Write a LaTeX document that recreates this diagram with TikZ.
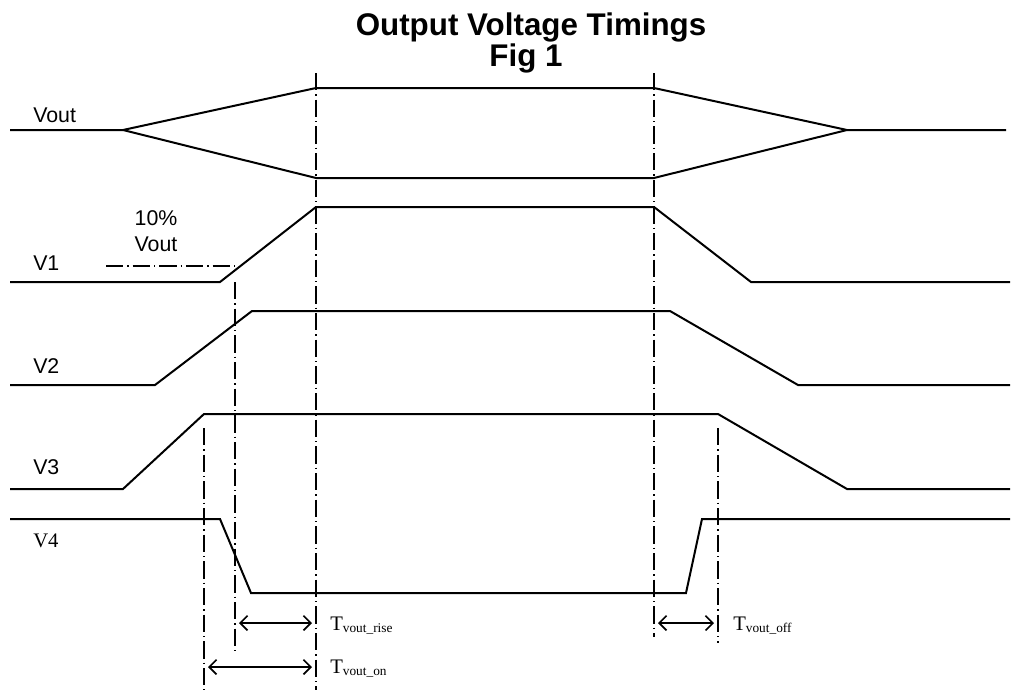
\documentclass[tikz,border=0pt]{standalone}
\usepackage{fontspec}
\setmainfont{Liberation Serif}
\setsansfont{Liberation Sans}
\usetikzlibrary{arrows.meta}

\begin{document}
\begin{tikzpicture}[
  x=0.75pt, y=-0.75pt,
  sig/.style={line width=1.5pt, line join=miter},
  guide/.style={line width=0.9pt, dash pattern=on 13pt off 3pt on 1pt off 3pt},
  span/.style={{Straight Barb[length=5.5pt,width=11pt]}-{Straight Barb[length=5.5pt,width=11pt]},
               line width=1.2pt, shorten <=3pt, shorten >=3pt},
  lbl/.style={font=\sffamily\fontsize{16}{19}\selectfont, anchor=base west, inner sep=0pt},
  tlbl/.style={font=\fontsize{15.5}{18}\selectfont, anchor=base west, inner sep=0pt},
]
\useasboundingbox (0,0) rectangle (1015,693);

% --- title ---
\node[font=\sffamily\bfseries\fontsize{23.5}{28}\selectfont, anchor=base] (title) at (531,35) {Output Voltage Timings};
\node[font=\sffamily\bfseries\fontsize{23.5}{28}\selectfont, anchor=base] (fig) at (526,66) {Fig 1};

% --- signal names ---
\node[lbl] (nvout) at (33,122) {Vout};
\node[lbl] (nv1)   at (33,270) {V1};
\node[lbl] (nv2)   at (33,373) {V2};
\node[lbl] (nv3)   at (33,474) {V3};
\node[tlbl] (nv4)  at (33,547) {V4};
\node[font=\sffamily\fontsize{16}{19}\selectfont, align=center, inner sep=0pt] (ten) at (156,231) {10\%\\Vout};

% --- waveforms ---
\draw[sig] (10,130) -- (123,130) -- (316,88) -- (654,88) -- (847,130) -- (1006,130);
\draw[sig] (123,130) -- (316,178) -- (654,178) -- (847,130);
\draw[sig] (10,282) -- (220,282) -- (316,207) -- (654,207) -- (751,282) -- (1010,282);
\draw[sig] (10,385) -- (155,385) -- (252,311) -- (670,311) -- (798,385) -- (1010,385);
\draw[sig] (10,489) -- (123,489) -- (204,414) -- (718,414) -- (847,489) -- (1010,489);
\draw[sig] (10,519) -- (220,519) -- (251,593) -- (686,593) -- (702,519) -- (1010,519);

% --- guides ---
\coordinate (tenL) at (106,266);
\coordinate (tenR) at (238,266);
\draw[guide] (tenL) -- (tenR);
\coordinate (onT)   at (204,428);  \coordinate (onB)   at (204,690);
\coordinate (riseT) at (235,282);  \coordinate (riseB) at (235,653);
\coordinate (upT)   at (316,73);   \coordinate (upB)   at (316,690);
\coordinate (dnT)   at (654,73);   \coordinate (dnB)   at (654,637);
\coordinate (offT)  at (718,428);  \coordinate (offB)  at (718,643);
\foreach \g in {on, rise, up, dn, off}
  \draw[guide] (\g T) -- (\g B);

% --- timings ---
\coordinate (riseL) at (235,623);  \coordinate (riseR) at (316,623);
\coordinate (onL)   at (204,667);  \coordinate (onR)   at (316,667);
\coordinate (offL)  at (654,623);  \coordinate (offR)  at (718,623);
\draw[span] (riseL) -- (riseR);
\draw[span] (onL) -- (onR);
\draw[span] (offL) -- (offR);
\node[tlbl] (trise) at (330,630) {T\raisebox{-2pt}{\fontsize{10}{12}\selectfont vout\_rise}};
\node[tlbl] (ton)   at (330,673) {T\raisebox{-2pt}{\fontsize{10}{12}\selectfont vout\_on}};
\node[tlbl] (toff)  at (733,630) {T\raisebox{-2pt}{\fontsize{10}{12}\selectfont vout\_off}};
\end{tikzpicture}
\end{document}
